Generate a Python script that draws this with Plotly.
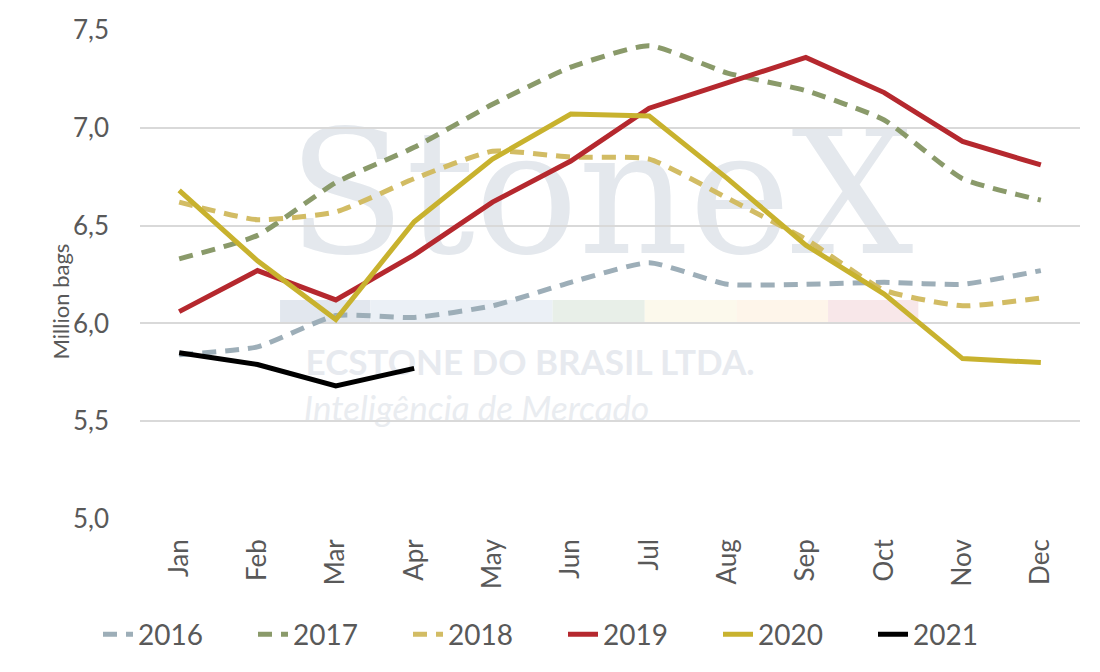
import plotly.graph_objects as go

months = ['Jan', 'Feb', 'Mar', 'Apr', 'May', 'Jun', 'Jul', 'Aug', 'Sep', 'Oct', 'Nov', 'Dec']

y2016 = [5.84, 5.88, 6.04, 6.03, 6.09, 6.21, 6.31, 6.20, 6.20, 6.21, 6.20, 6.27]
y2017 = [6.33, 6.45, 6.72, 6.90, 7.12, 7.31, 7.42, 7.28, 7.19, 7.04, 6.74, 6.63]
y2018 = [6.62, 6.53, 6.57, 6.74, 6.88, 6.85, 6.84, 6.64, 6.43, 6.17, 6.09, 6.13]
y2019 = [6.06, 6.27, 6.12, 6.35, 6.62, 6.83, 7.10, 7.23, 7.36, 7.18, 6.93, 6.81]
y2020 = [6.68, 6.32, 6.02, 6.52, 6.84, 7.07, 7.06, 6.74, 6.40, 6.15, 5.82, 5.80]
y2021 = [5.85, 5.79, 5.68, 5.77]

font = 'Lato'
grey = '#595959'
wm = '#E4E8ED'

fig = go.Figure()

# watermark on the hidden lower subplot (x/y), so the data lines sit on top
fig.add_trace(go.Scatter(x=[0.49], y=[6.58], mode='text', text=['StoneX'], showlegend=False,
                         hoverinfo='skip', textfont=dict(family='DejaVu Serif', size=172, color=wm)))
fig.add_trace(go.Scatter(x=[0.415], y=[5.78], mode='text', text=['<b>ECSTONE DO BRASIL LTDA.</b>'],
                         showlegend=False, hoverinfo='skip',
                         textfont=dict(family='Lato', size=35, color='#E7EAEF')))
fig.add_trace(go.Scatter(x=[0.358], y=[5.545], mode='text', text=['<i>Inteligência de Mercado</i>'],
                         showlegend=False, hoverinfo='skip',
                         textfont=dict(family='Lato', size=35, color='#E9ECF0')))

def add(name, ys, color, dash):
    shape = 'spline' if dash != 'solid' else 'linear'
    fig.add_trace(go.Scatter(x=months[:len(ys)], y=ys, name=name, mode='lines', xaxis='x2', yaxis='y2',
                             line=dict(color=color, width=5, dash=dash, shape=shape, smoothing=0.5)))

dash = '14px,9px'
add('2016', y2016, '#9DAEB8', dash)
add('2017', y2017, '#8A9A6A', dash)
add('2018', y2018, '#D2BC64', dash)
add('2019', y2019, '#B5282E', 'solid')
add('2020', y2020, '#C8B22E', 'solid')
add('2021', y2021, '#000000', 'solid')

segs = [(0.149, 0.245, '#E2E7EE'), (0.245, 0.439, '#EBF0F6'), (0.439, 0.537, '#E8EFE8'),
        (0.537, 0.635, '#FCF9EC'), (0.635, 0.732, '#FEF5EA'), (0.732, 0.828, '#F8E7E9')]
for x0, x1, c in segs:
    fig.add_shape(type='rect', xref='paper', yref='y', x0=x0, x1=x1, y0=6.0, y1=6.12,
                  fillcolor=c, line_width=0, layer='below')

# y axis title sits a little below the middle in the original
fig.add_annotation(text='Million bags', xref='paper', yref='y2', x=-0.101, y=6.11, textangle=-90,
                   showarrow=False, font=dict(size=22, color=grey))

fig.update_layout(
    width=1100, height=672,
    plot_bgcolor='rgba(0,0,0,0)', paper_bgcolor='white',
    margin=dict(l=132, r=28, t=22, b=161, autoexpand=False),
    separators=',.',
    font=dict(family=font, color=grey, size=22),
    legend=dict(orientation='h', x=0.45, xanchor='center', y=-0.185, yanchor='top',
                font=dict(size=28, color=grey), entrywidth=110, entrywidthmode='pixels',
                traceorder='normal'),
    xaxis=dict(domain=[0, 1], range=[0, 1], visible=False, fixedrange=True),
    yaxis=dict(domain=[0, 1], range=[5.0, 7.5], visible=False, fixedrange=True),
    xaxis2=dict(domain=[0, 1], anchor='y2', type='category', range=[-0.5, 11.5], tickangle=-90,
                tickfont=dict(size=26, color=grey), showgrid=False, showline=False, ticks='',
                ticklabelstandoff=14),
    yaxis2=dict(domain=[0, 1], anchor='x2', range=[5.0, 7.5], dtick=0.5, tickformat='.1f',
                gridcolor='#D9D9D9', gridwidth=2, zeroline=False, ticks='',
                tickfont=dict(size=26, color=grey), ticklabelstandoff=30),
)

fig.write_html('out.html')
